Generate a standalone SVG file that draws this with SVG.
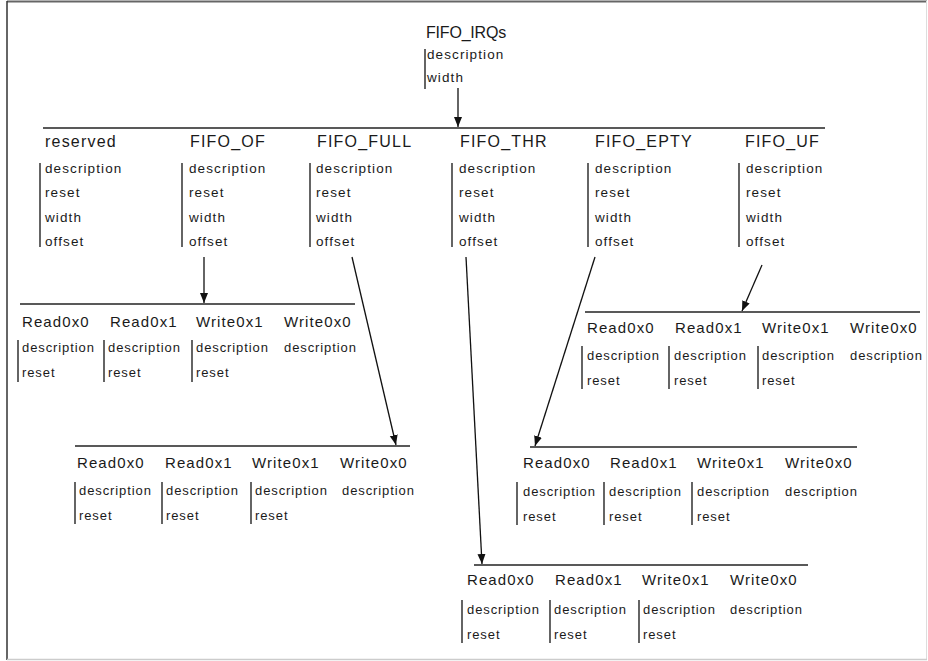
<svg xmlns="http://www.w3.org/2000/svg" width="928" height="661" viewBox="0 0 928 661">
<style>
text{font-family:"Liberation Sans",Arial,sans-serif;fill:#1a1a1a}
.t{font-size:16px;letter-spacing:1.2px}
.q{font-size:16px;letter-spacing:-0.2px}
.h{font-size:15px;letter-spacing:1.1px}
.a{font-size:13.5px;letter-spacing:1.1px}
.v{font-size:13px;letter-spacing:0.9px}
.bar{stroke:#111;stroke-width:1.3}
.bus{stroke:#222;stroke-width:1.5}
.arr{stroke:#111;stroke-width:1.3;fill:none;marker-end:url(#ah)}
</style>
<defs>
<marker id="ah" markerUnits="userSpaceOnUse" markerWidth="10" markerHeight="10" viewBox="0 0 10 10" refX="10" refY="5" orient="auto">
<path d="M0,1 L10,5 L0,9 Z" fill="#111"/>
</marker>
</defs>
<rect x="0" y="0" width="928" height="661" fill="#fff"/>
<line x1="7" y1="1.5" x2="927" y2="1.5" stroke="#666" stroke-width="2"/>
<line x1="7" y1="1" x2="7" y2="660" stroke="#333" stroke-width="1.5"/>
<line x1="926.5" y1="1" x2="926.5" y2="660" stroke="#ddd" stroke-width="1"/>
<line x1="7" y1="659.5" x2="927" y2="659.5" stroke="#ccc" stroke-width="1.5"/>

<g id="FIFO_IRQs">
<text class="q" x="426" y="38">FIFO_IRQs</text>
<line class="bar" x1="425" y1="49" x2="425" y2="89"/>
<text class="a" x="427" y="59">description</text>
<text class="a" x="427" y="82">width</text>
</g>

<g id="fields">
<line class="bus" x1="43" y1="128" x2="825" y2="128"/>
<g id="reserved">
<text class="t" x="45" y="147">reserved</text>
<line class="bar" x1="40" y1="163" x2="40" y2="247"/>
<text class="a" x="45" y="173">description</text>
<text class="a" x="45" y="197">reset</text>
<text class="a" x="45" y="222">width</text>
<text class="a" x="45" y="246">offset</text>
</g>
<g id="FIFO_OF">
<text class="t" x="190" y="147">FIFO_OF</text>
<line class="bar" x1="182" y1="163" x2="182" y2="247"/>
<text class="a" x="189" y="173">description</text>
<text class="a" x="189" y="197">reset</text>
<text class="a" x="189" y="222">width</text>
<text class="a" x="189" y="246">offset</text>
</g>
<g id="FIFO_FULL">
<text class="t" x="317" y="147">FIFO_FULL</text>
<line class="bar" x1="310" y1="163" x2="310" y2="247"/>
<text class="a" x="316" y="173">description</text>
<text class="a" x="316" y="197">reset</text>
<text class="a" x="316" y="222">width</text>
<text class="a" x="316" y="246">offset</text>
</g>
<g id="FIFO_THR">
<text class="t" x="460" y="147">FIFO_THR</text>
<line class="bar" x1="452" y1="163" x2="452" y2="247"/>
<text class="a" x="459" y="173">description</text>
<text class="a" x="459" y="197">reset</text>
<text class="a" x="459" y="222">width</text>
<text class="a" x="459" y="246">offset</text>
</g>
<g id="FIFO_EPTY">
<text class="t" x="595" y="147">FIFO_EPTY</text>
<line class="bar" x1="588" y1="163" x2="588" y2="247"/>
<text class="a" x="595" y="173">description</text>
<text class="a" x="595" y="197">reset</text>
<text class="a" x="595" y="222">width</text>
<text class="a" x="595" y="246">offset</text>
</g>
<g id="FIFO_UF">
<text class="t" x="745" y="147">FIFO_UF</text>
<line class="bar" x1="739" y1="163" x2="739" y2="247"/>
<text class="a" x="746" y="173">description</text>
<text class="a" x="746" y="197">reset</text>
<text class="a" x="746" y="222">width</text>
<text class="a" x="746" y="246">offset</text>
</g>
</g>

<g id="OF_values">
<line class="bus" x1="20" y1="304" x2="355" y2="304"/>
<text class="h" x="22" y="327">Read0x0</text>
<text class="h" x="110" y="327">Read0x1</text>
<text class="h" x="196" y="327">Write0x1</text>
<text class="h" x="284" y="327">Write0x0</text>
<line class="bar" x1="18" y1="340" x2="18" y2="382"/>
<line class="bar" x1="104" y1="340" x2="104" y2="382"/>
<line class="bar" x1="192" y1="340" x2="192" y2="382"/>
<text class="v" x="22" y="352">description</text>
<text class="v" x="108" y="352">description</text>
<text class="v" x="196" y="352">description</text>
<text class="v" x="284" y="352">description</text>
<text class="v" x="22" y="377">reset</text>
<text class="v" x="108" y="377">reset</text>
<text class="v" x="196" y="377">reset</text>
</g>

<g id="FULL_values">
<line class="bus" x1="75" y1="446" x2="410" y2="446"/>
<text class="h" x="77" y="468">Read0x0</text>
<text class="h" x="165" y="468">Read0x1</text>
<text class="h" x="252" y="468">Write0x1</text>
<text class="h" x="340" y="468">Write0x0</text>
<line class="bar" x1="75" y1="482" x2="75" y2="524"/>
<line class="bar" x1="162" y1="482" x2="162" y2="524"/>
<line class="bar" x1="251" y1="482" x2="251" y2="524"/>
<text class="v" x="79" y="495">description</text>
<text class="v" x="166" y="495">description</text>
<text class="v" x="255" y="495">description</text>
<text class="v" x="342" y="495">description</text>
<text class="v" x="79" y="520">reset</text>
<text class="v" x="166" y="520">reset</text>
<text class="v" x="255" y="520">reset</text>
</g>

<g id="UF_values">
<line class="bus" x1="585" y1="312" x2="920" y2="312"/>
<text class="h" x="587" y="333">Read0x0</text>
<text class="h" x="675" y="333">Read0x1</text>
<text class="h" x="762" y="333">Write0x1</text>
<text class="h" x="850" y="333">Write0x0</text>
<line class="bar" x1="582" y1="346" x2="582" y2="389"/>
<line class="bar" x1="669" y1="346" x2="669" y2="389"/>
<line class="bar" x1="758" y1="346" x2="758" y2="389"/>
<text class="v" x="587" y="360">description</text>
<text class="v" x="674" y="360">description</text>
<text class="v" x="762" y="360">description</text>
<text class="v" x="850" y="360">description</text>
<text class="v" x="587" y="385">reset</text>
<text class="v" x="674" y="385">reset</text>
<text class="v" x="762" y="385">reset</text>
</g>

<g id="EPTY_values">
<line class="bus" x1="530" y1="447" x2="857" y2="447"/>
<text class="h" x="523" y="468">Read0x0</text>
<text class="h" x="610" y="468">Read0x1</text>
<text class="h" x="697" y="468">Write0x1</text>
<text class="h" x="785" y="468">Write0x0</text>
<line class="bar" x1="517" y1="482" x2="517" y2="525"/>
<line class="bar" x1="604" y1="482" x2="604" y2="525"/>
<line class="bar" x1="692" y1="482" x2="692" y2="525"/>
<text class="v" x="523" y="496">description</text>
<text class="v" x="609" y="496">description</text>
<text class="v" x="697" y="496">description</text>
<text class="v" x="785" y="496">description</text>
<text class="v" x="523" y="521">reset</text>
<text class="v" x="609" y="521">reset</text>
<text class="v" x="697" y="521">reset</text>
</g>

<g id="THR_values">
<line class="bus" x1="474" y1="565" x2="808" y2="565"/>
<text class="h" x="467" y="585">Read0x0</text>
<text class="h" x="555" y="585">Read0x1</text>
<text class="h" x="642" y="585">Write0x1</text>
<text class="h" x="730" y="585">Write0x0</text>
<line class="bar" x1="462" y1="600" x2="462" y2="643"/>
<line class="bar" x1="550" y1="600" x2="550" y2="643"/>
<line class="bar" x1="639" y1="600" x2="639" y2="643"/>
<text class="v" x="467" y="614">description</text>
<text class="v" x="554" y="614">description</text>
<text class="v" x="643" y="614">description</text>
<text class="v" x="730" y="614">description</text>
<text class="v" x="467" y="639">reset</text>
<text class="v" x="554" y="639">reset</text>
<text class="v" x="643" y="639">reset</text>
</g>

<g id="connectors">
<line class="arr" x1="458" y1="88" x2="458" y2="127"/>
<line class="arr" x1="204" y1="257" x2="204" y2="303"/>
<line class="arr" x1="352" y1="257" x2="396" y2="445"/>
<line class="arr" x1="466" y1="257" x2="482" y2="564"/>
<line class="arr" x1="595" y1="257" x2="535" y2="446"/>
<line class="arr" x1="762" y1="265" x2="742" y2="311"/>
</g>
</svg>
